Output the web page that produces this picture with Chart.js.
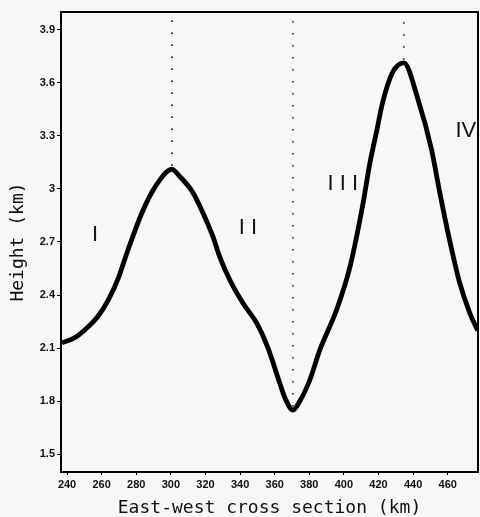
<!DOCTYPE html>
<html>
<head>
<meta charset="utf-8">
<script src="https://cdn.jsdelivr.net/npm/chart.js@4/dist/chart.umd.min.js"></script>
<style>
  html, body { margin: 0; padding: 0; background: #f7f7f7; }
  #wrap { width: 480px; height: 517px; }
</style>
</head>
<body>
<div id="wrap"><canvas id="c" width="480" height="517"></canvas></div>
<script>
// ---- data ----
const distanceKm = [237.1, 244.6, 252.1, 257.9, 263.7, 269.4, 275.2, 283.3, 290.8, 300.6,
                    305.2, 312.7, 318.5, 324.3, 328.3, 334.1, 341.6, 349.7, 356.0, 363.0,
                    365.9, 370.5, 374.5, 380.3, 386.1, 395.9, 403.4, 410.9, 414.9, 419.0,
                    422.4, 428.2, 434.6, 442.7, 450.7, 455.4, 461.1, 466.9, 472.7, 477.3];
const heightKm   = [2.13, 2.16, 2.22, 2.28, 2.37, 2.49, 2.655, 2.865, 3.01, 3.11,
                    3.07, 2.98, 2.865, 2.73, 2.615, 2.485, 2.355, 2.24, 2.105, 1.90,
                    1.82, 1.75, 1.80, 1.92, 2.09, 2.32, 2.555, 2.91, 3.14, 3.33,
                    3.49, 3.66, 3.713, 3.51, 3.22, 2.98, 2.71, 2.47, 2.30, 2.20];
const dividerKm     = [300.6, 370.5, 434.6];
const dividerHeight = [3.13, 1.77, 3.73];
const regionLabels  = ["I", "I I", "I I I", "IV"];
const regionKm      = [256.2, 344.5, 399.4, 470.5];
const regionHeight  = [2.74, 2.78, 3.03, 3.33];
const xTicks = [240, 260, 280, 300, 320, 340, 360, 380, 400, 420, 440, 460];
const yTicks = [1.5, 1.8, 2.1, 2.4, 2.7, 3.0, 3.3, 3.6, 3.9];
const xRange = [236.5, 477.5];
const yRange = [1.4, 4.0];

const profile = distanceKm.map((x, i) => ({ x: x, y: heightKm[i] }));

const dividerSets = dividerKm.map((x, i) => ({
  data: [{ x: x, y: dividerHeight[i] }, { x: x, y: yRange[1] }],
  borderColor: '#222',
  borderWidth: 1.6,
  borderDash: [1.6, 10.4],
  pointRadius: 0,
  fill: false
}));

const bgPlugin = {
  id: 'bg',
  beforeDraw(chart) {
    const ctx = chart.ctx;
    ctx.save();
    ctx.fillStyle = '#f7f7f7';
    ctx.fillRect(0, 0, chart.width, chart.height);
    ctx.restore();
  }
};

const framePlugin = {
  id: 'frame',
  afterDatasetsDraw(chart) {
    const { ctx, chartArea: a, scales } = chart;
    ctx.save();
    ctx.strokeStyle = '#000';
    ctx.lineWidth = 2;
    ctx.beginPath();
    ctx.moveTo(a.left, a.top);
    ctx.lineTo(a.right, a.top);
    ctx.lineTo(a.right, a.bottom);
    ctx.stroke();
    // region labels
    ctx.fillStyle = '#111';
    ctx.font = '22px "Liberation Sans"';
    ctx.textAlign = 'center';
    ctx.textBaseline = 'middle';
    regionLabels.forEach((t, i) => {
      ctx.fillText(t, scales.x.getPixelForValue(regionKm[i]), scales.y.getPixelForValue(regionHeight[i]));
    });
    ctx.restore();
  }
};

new Chart(document.getElementById('c'), {
  type: 'line',
  data: {
    datasets: [{
      data: profile,
      borderColor: '#000',
      borderWidth: 4.8,
      pointRadius: 0,
      cubicInterpolationMode: 'monotone',
      fill: false
    }].concat(dividerSets)
  },
  options: {
    responsive: false,
    animation: false,
    layout: { padding: { top: 12, right: 2, left: 0, bottom: 0 } },
    plugins: { legend: { display: false }, tooltip: { enabled: false } },
    scales: {
      x: {
        type: 'linear',
        min: xRange[0],
        max: xRange[1],
        afterBuildTicks(s) { s.ticks = xTicks.map(v => ({ value: v })); },
        afterFit(s) { s.height = 45; },
        grid: { drawOnChartArea: false, tickLength: 3, color: '#000', tickWidth: 1 },
        border: { display: true, color: '#000', width: 2 },
        ticks: {
          color: '#111',
          padding: 3,
          maxRotation: 0,
          font: { family: '"Liberation Sans"', size: 11, weight: 'bold' },
          callback: v => String(v)
        },
        title: {
          display: true,
          text: 'East-west cross section (km)',
          color: '#111',
          padding: { top: 0, bottom: 0 },
          font: { family: '"DejaVu Sans Mono"', size: 18, lineHeight: 1 }
        }
      },
      y: {
        type: 'linear',
        min: yRange[0],
        max: yRange[1],
        afterBuildTicks(s) { s.ticks = yTicks.map(v => ({ value: v })); },
        afterFit(s) { s.width = 61; },
        grid: { drawOnChartArea: false, tickLength: 4, color: '#000', tickWidth: 1 },
        border: { display: true, color: '#000', width: 2 },
        ticks: {
          color: '#111',
          padding: 2,
          font: { family: '"Liberation Sans"', size: 11, weight: 'bold' },
          callback: v => String(Number(v.toFixed(1)))
        },
        title: {
          display: true,
          text: 'Height (km)',
          color: '#111',
          padding: { top: 9, bottom: 0 },
          font: { family: '"DejaVu Sans Mono"', size: 18, lineHeight: 1 }
        }
      }
    }
  },
  plugins: [bgPlugin, framePlugin]
});
</script>
</body>
</html>
